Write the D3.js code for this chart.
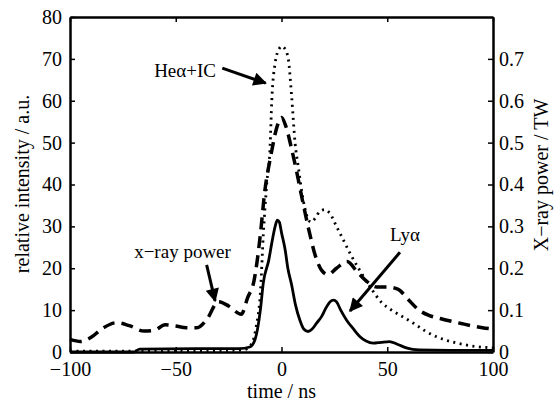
<!DOCTYPE html>
<meta charset="utf-8">
<style>
  body { margin: 0; background: #fff; }
  text { font-family: "Liberation Serif", "DejaVu Serif", serif; fill: #000; }
  .axis path, .axis line { stroke: #000; }
  .curve { fill: none; stroke: #000; }
</style>
<body>
<div id="chart"></div>
<script src="https://d3js.org/d3.v7.min.js"></script>
<script>
// time axis ticks
var xTicks = [-100, -50, 0, 50, 100];
var yTicks = [0, 10, 20, 30, 40, 50, 60, 70, 80];
var y2Ticks = [0, 0.1, 0.2, 0.3, 0.4, 0.5, 0.6, 0.7];

// Ly-alpha (solid), relative intensity
var lyTime = [-100, -70, -67, -40, -20, -15, -12.5, -10, -8.6, -6, -4.6, -3, -2, -1, 0, 1.7, 3, 4.8, 6.5, 8.7, 10.5, 12.6, 14.5, 16.6, 19, 21, 23, 24.5, 26, 28, 30.8, 34, 37, 40, 43.4, 47, 51, 55, 59, 65, 80, 100];
var lyVals = [0, 0, 0.7, 0.8, 0.8, 1.2, 3, 10, 16.5, 22, 26, 30, 31.5, 31, 28.5, 24.5, 20, 16, 11.5, 7.6, 5.5, 4.9, 5.5, 6.9, 8.5, 10.5, 12, 12.4, 12, 10, 7.6, 5.5, 3.7, 2.6, 2.1, 2.3, 2.5, 1.8, 1, 0.5, 0.4, 0.4];

// He-alpha + IC (dotted), relative intensity
var heTime = [-100, -40, -18, -14, -12, -10, -8.6, -7, -5.4, -4.6, -3, -1, 0, 1.5, 3.2, 4.8, 6.4, 8, 10, 12, 14, 16, 18, 20.5, 23, 26, 29, 33, 37, 42, 47, 52, 57, 62, 68, 74, 80, 86, 92, 100];
var heVals = [0.2, 0.3, 0.5, 2, 6, 14, 28, 40, 49, 60, 69, 72.5, 73, 72.5, 70, 61, 50, 44, 37, 32.5, 31, 32, 33.5, 34, 33, 30, 27, 23, 19.5, 15.5, 12, 10, 8.5, 7, 5, 3.5, 2.5, 1.8, 1.3, 1];

// x-ray power (dashed), TW
var powTime = [-100, -95, -90, -85, -78, -72, -65, -60, -55, -50, -45, -40, -35, -30, -25, -19, -16, -13, -10, -8, -5, -2, 0, 2, 5, 7, 10, 13, 16, 19, 22, 26, 31, 36, 40, 45, 50, 55, 60, 65, 70, 75, 85, 95, 100];
var powVals = [0.03, 0.025, 0.035, 0.055, 0.07, 0.063, 0.05, 0.052, 0.065, 0.062, 0.058, 0.058, 0.08, 0.12, 0.11, 0.09, 0.13, 0.17, 0.28, 0.38, 0.47, 0.54, 0.56, 0.54, 0.48, 0.435, 0.36, 0.29, 0.23, 0.195, 0.185, 0.2, 0.216, 0.19, 0.17, 0.155, 0.155, 0.15, 0.125, 0.10, 0.087, 0.08, 0.068, 0.058, 0.055];

var width = 559, height = 402;
var margin = {top: 17, right: 66, bottom: 50, left: 70};
var w = width - margin.left - margin.right,
    h = height - margin.top - margin.bottom;

var svg = d3.select("#chart").append("svg")
    .attr("width", width).attr("height", height);

var defs = svg.append("defs");
defs.append("marker")
    .attr("id", "head")
    .attr("viewBox", "0 0 10 10")
    .attr("refX", 9).attr("refY", 5)
    .attr("markerWidth", 6).attr("markerHeight", 4.5)
    .attr("markerUnits", "strokeWidth")
    .attr("orient", "auto")
    .append("path").attr("d", "M0,0L10,5L0,10z").attr("fill", "#000");

var g = svg.append("g").attr("transform", "translate(" + margin.left + "," + margin.top + ")");

var x = d3.scaleLinear().domain([-100, 100]).range([0, w]);
var y = d3.scaleLinear().domain([0, 80]).range([h, 0]);
var y2 = d3.scaleLinear().domain([0, 0.8]).range([h, 0]);

var fs = "20px";

// axes (ticks pointing inward)
var axBottom = g.append("g").attr("class", "axis").attr("transform", "translate(0," + h + ")")
    .call(d3.axisBottom(x).tickValues(xTicks).tickSize(-5).tickPadding(13).tickSizeOuter(0));
var axTop = g.append("g").attr("class", "axis")
    .call(d3.axisTop(x).tickValues(xTicks).tickSize(-5).tickFormat("").tickSizeOuter(0));
var axLeft = g.append("g").attr("class", "axis")
    .call(d3.axisLeft(y).tickValues(yTicks).tickSize(-5).tickPadding(8).tickSizeOuter(0));
var axRight = g.append("g").attr("class", "axis").attr("transform", "translate(" + w + ",0)")
    .call(d3.axisRight(y2).tickValues(y2Ticks).tickSize(-5).tickPadding(6).tickSizeOuter(0)
      .tickFormat(function(d) { return d === 0 ? "0" : d3.format(".1f")(d); }));

[axBottom, axTop, axLeft, axRight].forEach(function(a) {
  a.selectAll("text").style("font-size", fs).style("font-family", "Liberation Serif");
  a.select(".domain").attr("stroke-width", 2.5);
  a.selectAll(".tick line").attr("stroke-width", 1.5);
});
axBottom.selectAll("text").attr("dy", "0.55em");

// curves
var line = d3.line().curve(d3.curveMonotoneX);

function pts(ts, vs, sc) { return ts.map(function(t, i) { return [x(t), sc(vs[i])]; }); }

g.append("path").attr("class", "curve")
    .attr("d", line(pts(powTime, powVals, y2)))
    .attr("stroke-width", 3.5).attr("stroke-dasharray", "12,7");
g.append("path").attr("class", "curve")
    .attr("d", line(pts(heTime, heVals, y)))
    .attr("stroke-width", 2.8).attr("stroke-dasharray", "2,4.5");
g.append("path").attr("class", "curve")
    .attr("d", line(pts(lyTime, lyVals, y)))
    .attr("stroke-width", 2.8).attr("stroke-linejoin", "round");

// annotations: text + arrows, anchored to data coordinates
function note(label, tx, ty, x1, y1, x2, y2v) {
  g.append("text").attr("x", x(tx)).attr("y", y(ty))
    .attr("text-anchor", "middle").attr("dy", "0.35em")
    .style("font-size", "19px").text(label);
  g.append("line")
    .attr("x1", x(x1)).attr("y1", y(y1)).attr("x2", x(x2)).attr("y2", y(y2v))
    .attr("stroke", "#000").attr("stroke-width", 3)
    .attr("marker-end", "url(#head)");
}
note("He\u03b1+IC", -45.6, 67.3, -28, 67.8, -7.5, 64.2);
note("x\u2212ray power", -46.8, 24, -35.4, 20.8, -31.4, 12.2);
note("Ly\u03b1", 58.4, 28, 56, 23.8, 32.4, 9.8);

// axis titles
svg.append("text")
    .attr("x", margin.left + w / 2).attr("y", 398)
    .attr("text-anchor", "middle").style("font-size", fs)
    .text("time / ns");
svg.append("text")
    .attr("transform", "translate(22," + 184 + ") rotate(-90)")
    .attr("text-anchor", "middle").attr("dy", "0.35em").style("font-size", fs)
    .text("relative intensity / a.u.");
svg.append("text")
    .attr("transform", "translate(541," + 175 + ") rotate(-90)")
    .attr("text-anchor", "middle").attr("dy", "0.35em").style("font-size", fs)
    .text("X\u2212ray power / TW");
</script>
</body>
